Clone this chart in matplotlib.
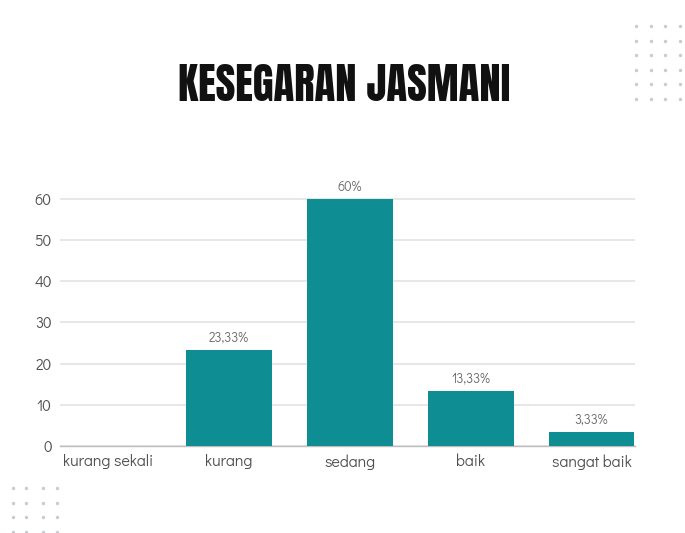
import numpy as np
import matplotlib
matplotlib.use("Agg")
import matplotlib.pyplot as plt
from matplotlib import font_manager

categories = ["kurang sekali", "kurang", "sedang", "baik", "sangat baik"]
values = [0, 23.33, 60, 13.33, 3.33]
value_labels = ["", "23,33%", "60%", "13,33%", "3,33%"]
yticks = [0, 10, 20, 30, 40, 50, 60]
title = "KESEGARAN JASMANI"

bar_color = "#0e8e93"
text_color = "#505050"

names = {f.name for f in font_manager.fontManager.ttflist}


def first_font(cands):
    for c in cands:
        if c in names:
            return c
    return "DejaVu Sans"


title_family = first_font(["Anton", "Bebas Neue"])
body_family = first_font(["Didact Gothic", "Questrial", "Poppins"])
plt.rcParams["font.family"] = [body_family, "DejaVu Sans"]

fig = plt.figure(figsize=(6.85, 5.33), dpi=100)
ax = fig.add_axes([0.0876, 0.163, 0.8394, 0.480])

x = np.arange(len(categories))
ax.bar(x, values, width=0.71, color=bar_color, zorder=3)
for xi, v, lab in zip(x, values, value_labels):
    if lab:
        ax.text(xi, v + 1.2, lab, ha="center", va="bottom", fontsize=9.5,
                color="#6a6a6a")

ax.set_xlim(-0.4, 4.36)
ax.set_ylim(0, 62)
ax.set_yticks(yticks)
ax.set_xticks(x)
ax.set_xticklabels(categories)
ax.tick_params(axis="both", length=0, colors=text_color, labelsize=11.5)
ax.tick_params(axis="y", pad=6, labelsize=11)
ax.tick_params(axis="x", pad=6)
ax.grid(axis="y", color="#e3e3e3", linewidth=1.2, zorder=0)
for s in ["top", "right", "left"]:
    ax.spines[s].set_visible(False)
ax.spines["bottom"].set_color("#bdbdbd")
ax.spines["bottom"].set_linewidth(1.0)

t = fig.text(0.503, 0.8405, title, ha="center", va="center", fontsize=30,
             family=[title_family, "DejaVu Sans"], color="#111111")
# fit the heading to a fixed width
fig.canvas.draw()
w = t.get_window_extent().width
t.set_fontsize(30 * 332.0 / w)

# dotted decorations in the corners
dec = fig.add_axes([0, 0, 1, 1], zorder=-1)
dec.set_xlim(0, 685)
dec.set_ylim(533, 0)
dec.axis("off")
gx, gy = np.meshgrid(np.arange(636, 686, 14.7), np.arange(26, 101, 14.6))
dec.scatter(gx.ravel(), gy.ravel(), s=6, color="#c8ccd0", marker="o", linewidths=0)
bx, by = np.meshgrid(np.array([13, 26, 43, 57]), np.arange(488, 534, 14.5))
dec.scatter(bx.ravel(), by.ravel(), s=6, color="#c8ccd0", marker="o", linewidths=0)

fig.savefig("out.png", dpi=100)
